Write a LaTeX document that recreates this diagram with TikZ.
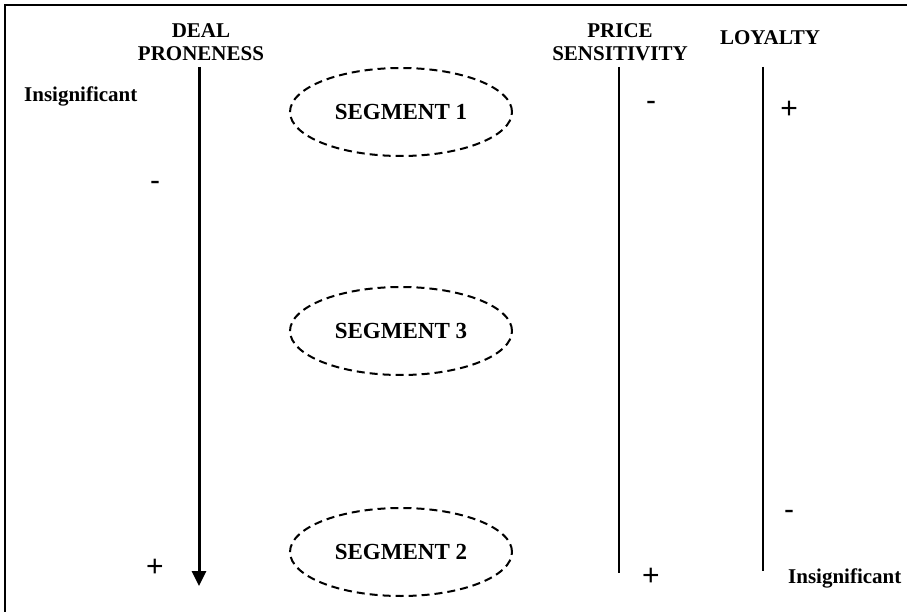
\documentclass[tikz,border=0pt]{standalone}
\usepackage{fontspec}
\setmainfont{Liberation Serif}
\newfontfamily\signfont{Liberation Sans}
\usetikzlibrary{shapes.geometric,arrows.meta}
\begin{document}
\begin{tikzpicture}[x=1pt,y=-1pt,
  head/.style={font=\fontsize{21}{23}\selectfont\bfseries, align=center, inner sep=0pt},
  note/.style={font=\fontsize{21}{23}\selectfont\bfseries, inner sep=0pt},
  sign/.style={font=\signfont\fontsize{30}{32}\selectfont, inner sep=0pt},
  segment/.style={ellipse, draw, dashed, dash pattern=on 8pt off 5pt, line width=2pt,
    minimum width=222pt, minimum height=88pt, inner sep=0pt,
    font=\fontsize{23}{25}\selectfont\bfseries},
  axis/.style={line width=1.4pt}]
\useasboundingbox (0,0) rectangle (907,612);
\fill[white] (0,0) rectangle (907,612);
\draw[line width=1.5pt] (5,620) -- (5,5) -- (915,5);
% headings
\node[head] (deal) at (201,42) {DEAL\\PRONENESS};
\node[head] (price) at (620,42) {PRICE\\SENSITIVITY};
\node[head] (loyal) at (770,38) {LOYALTY};
% deal proneness axis
\coordinate (dtop) at (199,67);
\coordinate (dbot) at (199,586);
\draw[line width=3pt, -{Triangle[length=15pt,width=14pt]}] (dtop) -- (dbot);
\node[note, anchor=west] (ins1) at (24,96) {Insignificant};
\node[sign] (dm) at (155,186) {-};
\node[sign] (dp) at (155,568) {+};
% segments
\node[segment] (s1) at (401,112) {SEGMENT 1};
\node[segment] (s3) at (401,331) {SEGMENT 3};
\node[segment] (s2) at (401,552) {SEGMENT 2};
% price sensitivity axis
\coordinate (ptop) at (619,67);
\coordinate (pbot) at (619,573);
\draw[axis] (ptop) -- (pbot);
\node[sign] (pm) at (651,106) {-};
\node[sign] (pp) at (651,577) {+};
% loyalty axis
\coordinate (ltop) at (763,67);
\coordinate (lbot) at (763,571);
\draw[axis] (ltop) -- (lbot);
\node[sign] (lp) at (789,110) {+};
\node[sign] (lm) at (789,515) {-};
\node[note, anchor=west] (ins2) at (788,578) {Insignificant};
\end{tikzpicture}
\end{document}
